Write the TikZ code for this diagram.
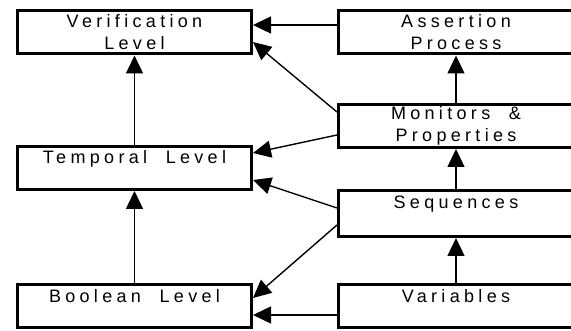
\documentclass[tikz,border=0pt]{standalone}
\usepackage{fontspec}
\newfontfamily\boxfont{Liberation Sans}[LetterSpace=24, WordSpace=2]
\usetikzlibrary{arrows.meta, positioning}

\begin{document}
\begin{tikzpicture}[
    box/.style={rectangle, draw=black, line width=3pt, align=center, minimum width=234pt, minimum height=43pt, inner sep=1pt, font=\boxfont\fontsize{18}{22}\selectfont},
    line/.style={draw, line width=1.4pt, -{Triangle[length=18pt, width=17pt]}}
]
\path[use as bounding box, clip] (-134.5pt,32.5pt) rectangle (436.5pt,-298.5pt);

% Nodes
\node[box] (ver) at (0,0) {Verification\\Level};
\node[box, below=89.5pt of ver] (tem) {Temporal Level\\\mbox{}};
\node[box, below=92.5pt of tem] (boo) {Boolean Level\\\mbox{}};

\node[box, right=84pt of ver, minimum width=235pt] (ass) {Assertion\\Process};
\node[box, below=47.5pt of ass, minimum width=235pt] (mon) {Monitors \&\\Properties};
\node[box, below=40pt of mon, minimum width=235pt, minimum height=46pt] (seq) {Sequences\\\mbox{}};
\node[box, right=84pt of boo, minimum width=235pt] (var) {Variables\\\mbox{}};

% Connections
\draw[line] (tem.north) -- (ver.south);
\draw[line] (boo.north) -- (tem.south);
\draw[line] (mon.north) -- (ass.south);
\draw[line] (seq.north) -- (mon.south);
\draw[line] (var.north) -- (seq.south);

\draw[line] ([yshift=7.5pt]ass.west) -- ([yshift=7.5pt]ver.east);
\draw[line] ([yshift=14pt]mon.west) -- ([yshift=-9.5pt]ver.east);
\draw[line] ([yshift=-9pt]mon.west) -- ([yshift=15pt]tem.east);
\draw[line] ([yshift=5.5pt]seq.west) -- ([yshift=-12pt]tem.east);
\draw[line] ([yshift=-11.5pt]seq.west) -- ([yshift=8.5pt]boo.east);
\draw[line] ([yshift=-8.5pt]var.west) -- ([yshift=-8.5pt]boo.east);

\end{tikzpicture}
\end{document}
